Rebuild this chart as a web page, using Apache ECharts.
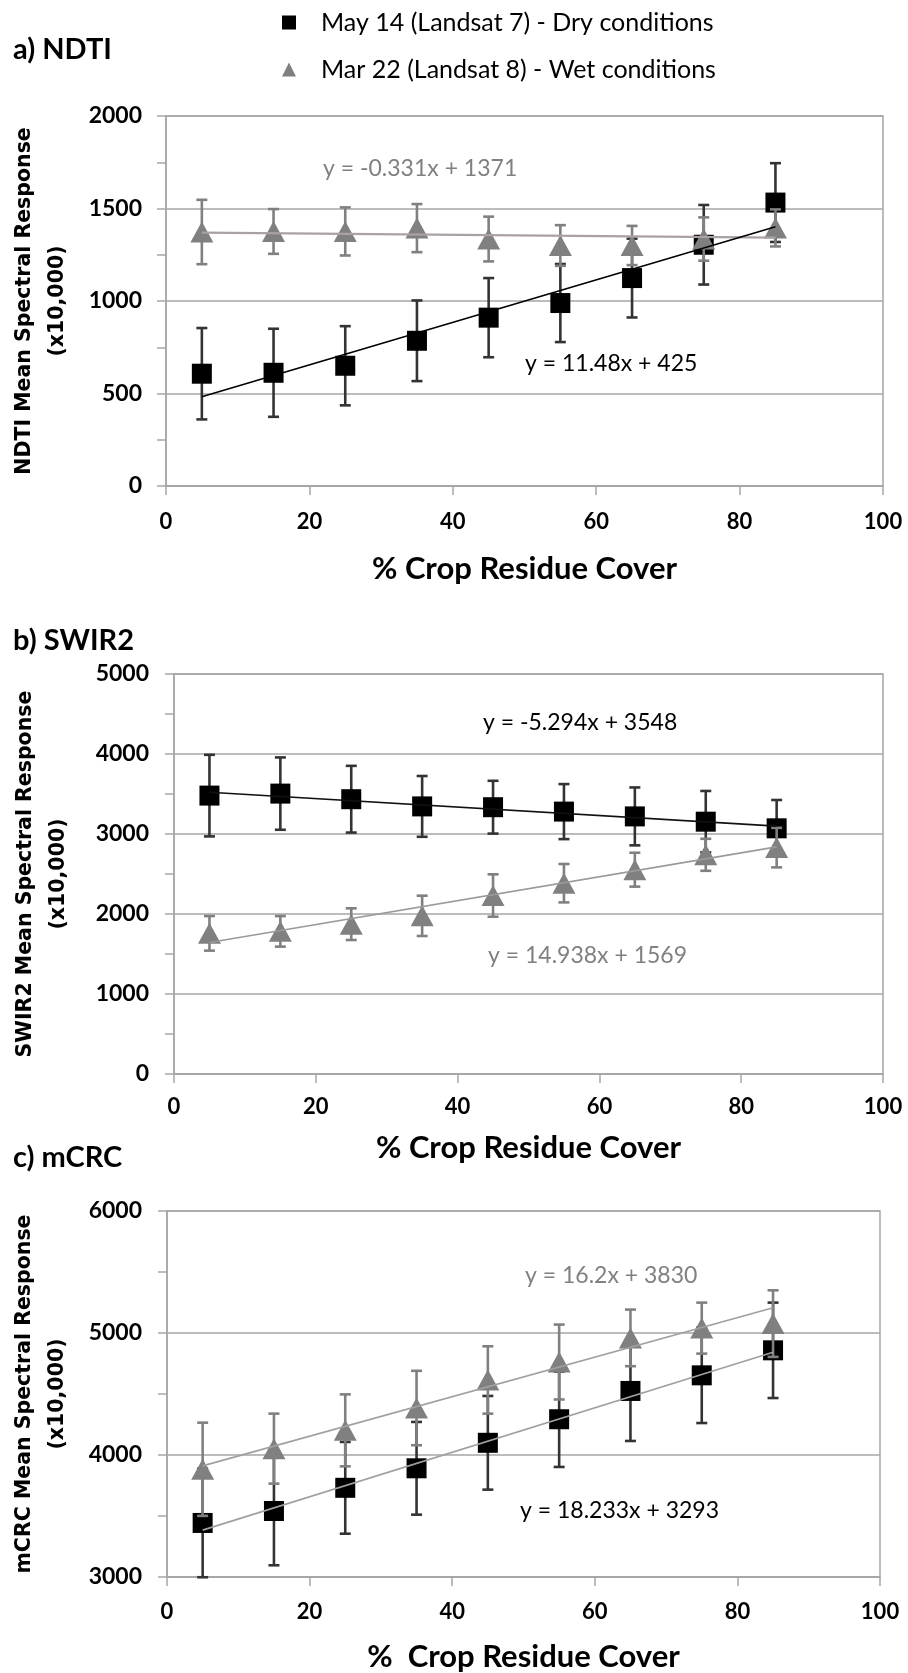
<!DOCTYPE html>
<html>
<head>
<meta charset="utf-8">
<script src="https://cdn.jsdelivr.net/npm/echarts@6/dist/echarts.min.js"></script>
<style>
  html, body { margin: 0; padding: 0; background: #fff; }
  #chart { width: 908px; height: 1673px; }
</style>
</head>
<body>
<div id="chart"></div>
<script>
// ---------- data ----------
const xCover = [5, 15, 25, 35, 45, 55, 65, 75, 85];
const xTicks = [0, 20, 40, 60, 80, 100];

const DRY = 'May 14 (Landsat 7) - Dry conditions';
const WET = 'Mar 22 (Landsat 8) - Wet conditions';

// a) NDTI
const ndtiDry    = [607, 612, 650, 785, 910, 989, 1124, 1304, 1532];
const ndtiDryErr = [247, 238, 214, 218, 214, 211, 213, 215, 213];
const ndtiWet    = [1373, 1376, 1376, 1394, 1335, 1300, 1300, 1335, 1395];
const ndtiWetErr = [174, 121, 130, 130, 121, 110, 106, 117, 100];
const ndtiDryFit = [11.48, 425];
const ndtiWetFit = [-0.331, 1371];

// b) SWIR2
const swirDry    = [3480, 3505, 3435, 3345, 3335, 3280, 3220, 3154, 3071];
const swirDryErr = [510, 452, 417, 380, 330, 344, 362, 384, 354];
const swirWet    = [1758, 1783, 1873, 1977, 2231, 2385, 2554, 2740, 2830];
const swirWetErr = [216, 191, 198, 252, 265, 240, 212, 200, 247];
const swirDryFit = [-5.294, 3548];
const swirWetFit = [14.938, 1569];

// c) mCRC
const mcrcDry    = [3443, 3541, 3731, 3891, 4100, 4293, 4525, 4653, 4858];
const mcrcDryErr = [445, 445, 376, 380, 384, 391, 410, 391, 391];
const mcrcWet    = [3883, 4052, 4202, 4385, 4615, 4762, 4960, 5040, 5077];
const mcrcWetErr = [382, 287, 295, 305, 276, 307, 232, 209, 273];
const mcrcDryFit = [18.233, 3293];
const mcrcWetFit = [16.2, 3830];

const panelTitles = ['a) NDTI', 'b) SWIR2', 'c) mCRC'];
const yTitles = ['NDTI Mean Spectral Response\n(x10,000)',
                 'SWIR2 Mean Spectral Response\n(x10,000)',
                 'mCRC Mean Spectral Response\n(x10,000)'];
const xTitles = ['% Crop Residue Cover', '% Crop Residue Cover', '%  Crop Residue Cover'];
const yRanges = [[0, 2000, 500], [0, 5000, 1000], [3000, 6000, 1000]];
const eqLabels = [
  ['y = -0.331x + 1371', 'y = 11.48x + 425'],
  ['y = 14.938x + 1569', 'y = -5.294x + 3548'],
  ['y = 16.2x + 3830', 'y = 18.233x + 3293']
];

// ---------- layout / style ----------
const FONT = "Lato, 'Open Sans', sans-serif";
const YFONT = "'DejaVu Sans', Verdana, sans-serif";
const GRIDC = '#a6a6a6';
const GREY = '#808080';

const grids = [
  { left: 166, top: 116, width: 717, height: 370 },
  { left: 174, top: 674, width: 709, height: 400 },
  { left: 167, top: 1211, width: 713, height: 366 }
];
const labelMargin = [25, 22, 24];
const xNameGap = [67, 58, 64];
const yNameGap = [92, 99, 93];
const yLabelMargin = [24, 25, 25];
const titlePos = [[13, 52], [13, 643], [13, 1160]];
const eqPos = [
  [[323, 170, GREY], [525, 365, '#000']],
  [[488, 957, GREY], [483, 724, '#000']],
  [[525, 1277, GREY], [520, 1512, '#000']]
];

const panels = [
  { dry: ndtiDry, dryErr: ndtiDryErr, wet: ndtiWet, wetErr: ndtiWetErr, dryFit: ndtiDryFit, wetFit: ndtiWetFit,
    dryLine: '#000', wetLine: '#aaa2a2' },
  { dry: swirDry, dryErr: swirDryErr, wet: swirWet, wetErr: swirWetErr, dryFit: swirDryFit, wetFit: swirWetFit,
    dryLine: '#111', wetLine: '#9a9a9a' },
  { dry: mcrcDry, dryErr: mcrcDryErr, wet: mcrcWet, wetErr: mcrcWetErr, dryFit: mcrcDryFit, wetFit: mcrcWetFit,
    dryLine: '#a0a0a0', wetLine: '#a0a0a0' }
];

function errRender(color) {
  return function (params, api) {
    const x = api.value(0), lo = api.value(1), hi = api.value(2);
    const p1 = api.coord([x, hi]);
    const p2 = api.coord([x, lo]);
    const w = 5.5;
    const st = { stroke: color, lineWidth: 2.6 };
    return {
      type: 'group',
      children: [
        { type: 'line', shape: { x1: p1[0], y1: p1[1], x2: p2[0], y2: p2[1] }, style: st },
        { type: 'line', shape: { x1: p1[0] - w, y1: p1[1], x2: p1[0] + w, y2: p1[1] }, style: st },
        { type: 'line', shape: { x1: p2[0] - w, y1: p2[1], x2: p2[0] + w, y2: p2[1] }, style: st }
      ]
    };
  };
}

const xAxis = [], yAxis = [], series = [], graphic = [];
panels.forEach((p, i) => {
  xAxis.push({
    gridIndex: i, type: 'value', min: 0, max: 100, interval: 20,
    axisLine: { show: true, lineStyle: { color: GRIDC, width: 1.5 } },
    axisTick: { show: true, length: 9, lineStyle: { color: GRIDC, width: 1.5 } },
    splitLine: { show: false },
    axisLabel: { fontFamily: FONT, fontWeight: 'bold', fontSize: 22, color: '#000', margin: labelMargin[i],
                 formatter: v => String(v) },
    name: xTitles[i], nameLocation: 'middle', nameGap: xNameGap[i],
    nameTextStyle: { fontFamily: FONT, fontWeight: 'bold', fontSize: 31, color: '#000' }
  });
  const yr = yRanges[i];
  yAxis.push({
    gridIndex: i, type: 'value', min: yr[0], max: yr[1], interval: yr[2],
    axisLine: { show: true, lineStyle: { color: GRIDC, width: 1.5 } },
    axisTick: { show: true, length: 9, lineStyle: { color: GRIDC, width: 1.5 } },
    minorTick: { show: true, splitNumber: 2, length: 9, lineStyle: { color: GRIDC, width: 1.5 } },
    splitLine: { show: true, lineStyle: { color: GRIDC, width: 1.5 } },
    axisLabel: { fontFamily: FONT, fontWeight: 'bold', fontSize: 23, color: '#000', margin: yLabelMargin[i],
                 formatter: v => String(v) },
    name: yTitles[i], nameLocation: 'middle', nameRotate: 90, nameGap: yNameGap[i],
    nameTextStyle: { fontFamily: YFONT, fontWeight: 'bold', fontSize: 20.5, lineHeight: 33, color: '#000', align: 'center' }
  });

  const dryBars = xCover.map((x, k) => [x, p.dry[k] - p.dryErr[k], p.dry[k] + p.dryErr[k]]);
  const wetBars = xCover.map((x, k) => [x, p.wet[k] - p.wetErr[k], p.wet[k] + p.wetErr[k]]);
  const x0 = xCover[0], x1 = xCover[xCover.length - 1];

  series.push({
    type: 'custom', name: 'dryErr' + i, xAxisIndex: i, yAxisIndex: i, z: 2,
    renderItem: errRender('#333'), data: dryBars, silent: true
  });
  series.push({
    type: 'scatter', name: DRY, xAxisIndex: i, yAxisIndex: i, z: 3,
    symbol: 'rect', symbolSize: 20, itemStyle: { color: '#000', opacity: 1 },
    data: xCover.map((x, k) => [x, p.dry[k]])
  });
  series.push({
    type: 'custom', name: 'wetErr' + i, xAxisIndex: i, yAxisIndex: i, z: 4,
    renderItem: errRender(GREY), data: wetBars, silent: true
  });
  series.push({
    type: 'scatter', name: WET, xAxisIndex: i, yAxisIndex: i, z: 5,
    symbol: 'triangle', symbolSize: [23, 21], itemStyle: { color: GREY, opacity: 1 },
    data: xCover.map((x, k) => [x, p.wet[k]])
  });
  series.push({
    type: 'line', name: 'wetFit' + i, xAxisIndex: i, yAxisIndex: i, z: 6,
    symbol: 'none', lineStyle: { color: p.wetLine, width: i === 0 ? 2.2 : 1.6 },
    data: [[x0, p.wetFit[0] * x0 + p.wetFit[1]], [x1, p.wetFit[0] * x1 + p.wetFit[1]]],
    silent: true
  });
  series.push({
    type: 'line', name: 'dryFit' + i, xAxisIndex: i, yAxisIndex: i, z: 6,
    symbol: 'none', lineStyle: { color: p.dryLine, width: 1.6 },
    data: [[x0, p.dryFit[0] * x0 + p.dryFit[1]], [x1, p.dryFit[0] * x1 + p.dryFit[1]]],
    silent: true
  });

  graphic.push({
    type: 'text', left: titlePos[i][0], top: titlePos[i][1] - 17,
    style: { text: panelTitles[i], font: "bold 29px " + FONT, fill: '#000' }
  });
  eqLabels[i].forEach((t, j) => {
    const ep = eqPos[i][j];
    graphic.push({
      type: 'text', left: ep[0], top: ep[1] - 13,
      style: { text: t, font: "23px " + FONT, fill: ep[2] }
    });
  });
});

const chart = echarts.init(document.getElementById('chart'), null, { renderer: 'canvas' });
chart.setOption({
  backgroundColor: '#fff',
  animation: false,
  grid: grids.map(g => Object.assign({ show: true, borderColor: GRIDC, borderWidth: 1.5, backgroundColor: 'transparent' }, g)),
  legend: {
    orient: 'vertical', left: 277, top: 5, itemWidth: 14, itemHeight: 14, itemGap: 22,
    selectedMode: false,
    textStyle: { fontFamily: FONT, fontSize: 25, color: '#000', lineHeight: 25, padding: [0, 0, 0, 20] },
    data: [{ name: DRY, icon: 'rect' }, { name: WET, icon: 'triangle' }]
  },
  xAxis: xAxis,
  yAxis: yAxis,
  series: series,
  graphic: graphic
});
</script>
</body>
</html>
